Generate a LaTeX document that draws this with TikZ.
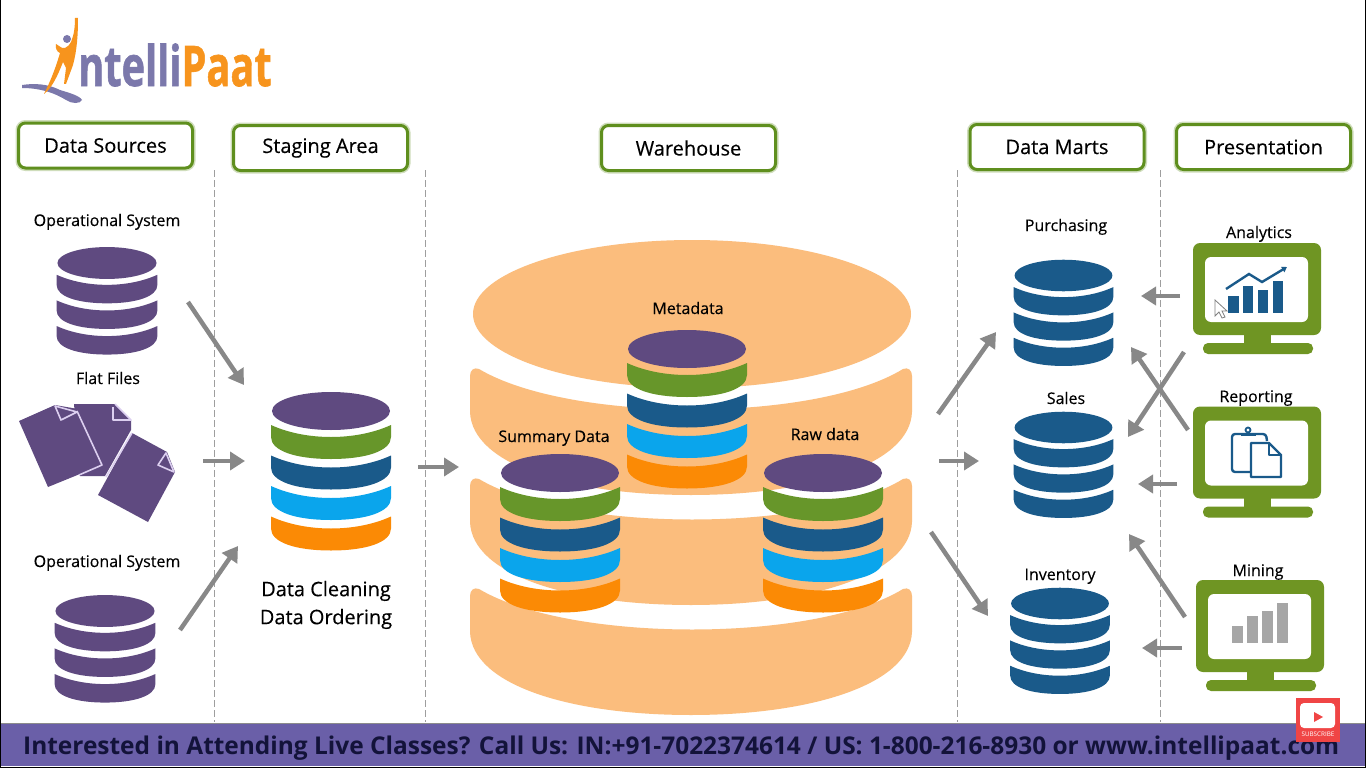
\documentclass[tikz,border=0pt]{standalone}
\usepackage{fontspec}
\usepackage{graphicx}
\setmainfont{Open Sans}
\newfontfamily\midfont[FakeBold=0.3]{Open Sans}
\newfontfamily\logofont[BoldFeatures={FakeBold=1.2}]{Open Sans}
\usetikzlibrary{arrows.meta,shapes.geometric}

\definecolor{boxgreen}{HTML}{5F8F1E}
\definecolor{screengreen}{HTML}{6F9523}
\definecolor{flowgray}{HTML}{888888}
\definecolor{diskpurple}{HTML}{5F4A80}
\definecolor{diskgreen}{HTML}{67962A}
\definecolor{diskblue}{HTML}{1A5A8A}
\definecolor{diskcyan}{HTML}{0AA5EC}
\definecolor{diskorange}{HTML}{FB8A05}
\definecolor{peach}{HTML}{FBBD7D}
\definecolor{paper}{HTML}{DCCFF0}
\definecolor{bannerpurple}{HTML}{6A5FA8}
\definecolor{bannerink}{HTML}{13133A}
\definecolor{logogray}{HTML}{7B78AB}
\definecolor{logoorange}{HTML}{F7941D}
\definecolor{ytred}{HTML}{F04545}

\tikzstyle{header}=[draw=boxgreen,fill=white,line width=3pt,rounded corners=7pt,minimum width=174pt,minimum height=45pt,inner sep=0pt,font=\midfont\fontsize{20}{24}\selectfont,preaction={draw=boxgreen!30,line width=6pt}]
\tikzstyle{tag}=[inner sep=0pt,text=black,text height=12pt,text depth=3.5pt,yshift=-1.75pt,font=\midfont\fontsize{16}{20}\selectfont]
\tikzstyle{bigger}=[inner sep=0pt,text=black,font=\midfont\fontsize{20}{24}\selectfont]
\tikzstyle{flow}=[draw=flowgray,line width=4.5pt,-{Triangle[length=15pt,width=18pt]}]
\tikzstyle{divider}=[draw=black!38,dash pattern=on 7pt off 3pt,line width=0.8pt]
\tikzstyle{diskcap}=[shape=ellipse,inner sep=0pt]
\tikzstyle{sheet}=[fill=diskpurple]
\tikzstyle{sheetline}=[draw=paper,line width=1.6pt,line join=round]
\tikzstyle{crt}=[fill=screengreen,rounded corners=7pt,minimum width=128pt,minimum height=92pt,inner sep=0pt]
\tikzstyle{glass}=[fill=white,rounded corners=6pt,minimum width=103pt,minimum height=65pt,inner sep=0pt]
\tikzstyle{iconline}=[draw=diskblue,line width=2.4pt,line join=round]

% name, x, y, scale, top colour, colours of the bands
\newcommand{\dbstack}[6]{
    \node[diskcap,fill=#5,minimum width=#4*118pt,minimum height=#4*38pt] (#1) at (#2,#3) {};
    \begin{scope}[shift={(#2,#3)},scale=#4]
        \foreach \col [count=\i from 0] in {#6}
            \fill[\col,shift={(0,14+\i*30.5)}] (-60,0) .. controls (-25,16) and (25,16) .. (60,0)
                -- (60,12) .. controls (60,26) and (35,34) .. (0,34)
                .. controls (-35,34) and (-60,26) .. (-60,12) -- cycle;
    \end{scope}
}
% name, x and y of the screen centre
\newcommand{\monitor}[3]{
    \fill[screengreen] (#2-13,#3+40) rectangle (#2+14,#3+60);
    \fill[screengreen,rounded corners=5pt] (#2-54,#3+54) rectangle (#2+56,#3+65);
    \node[crt] (#1) at (#2,#3) {};
    \node[glass] (#1screen) at (#2-0.5,#3+0.5) {};
}

\begin{document}
\begin{tikzpicture}[x=1pt,y=-1pt]
    \useasboundingbox (0,0) rectangle (1366,768);
    \fill[white] (0,0) rectangle (1366,768);

    % Logo
    \fill[logogray] (22,85) .. controls (35,83) and (48,84) .. (60,90) .. controls (70,93) and (80,96) .. (82,100)
        .. controls (80,104) and (72,104) .. (66,100) .. controls (55,93) and (40,88) .. (22,88) -- cycle;
    \fill[logoorange] (75,18) -- (78,18) .. controls (78,35) and (77,50) .. (73,65) -- (66,84) -- (64,84) -- (66,68) -- (63,62)
        .. controls (58,75) and (52,88) .. (44,94) .. controls (50,82) and (55,70) .. (60,53)
        .. controls (57,52) and (55,48) .. (56,44) -- (59,46) .. controls (63,50) and (68,48) .. (71,42) .. controls (74,35) and (75,27) .. (75,18) -- cycle;
    \fill[logogray] (67,39) circle (4);
    \node[inner sep=0pt,anchor=base west] (logotext) at (78,86) {\scalebox{0.71}[1]{\fontsize{56}{60}\selectfont\logofont\bfseries\color{logogray}ntelli\color{logoorange}Paat}};

    % First we draw the column headers and the dividers
    \foreach \pos/\name/\words in {{(105.5,145.5)/sources/Data Sources}, {(320.5,148)/staging/Staging Area},
        {(688.5,148)/warehouse/Warehouse}, {(1057,147)/marts/Data Marts}, {(1263.5,147)/presentation/Presentation}}
        \node[header] (\name) at \pos {\words};
    \foreach \xpos in {214,425,957,1160}
        \draw[divider] (\xpos,170) -- (\xpos,722);

    % The warehouse drum
    \fill[peach] (692,314) ellipse (219 and 74);
    \foreach \dy in {0,110,220}
        \fill[peach,shift={(0,\dy)}] (470,376) .. controls (470,370) and (474,367) .. (479,369)
            .. controls (570,423) and (815,423) .. (903,369) .. controls (908,367) and (912,370) .. (912,376)
            -- (912,412) .. controls (910,465) and (810,495) .. (691,495)
            .. controls (570,495) and (472,465) .. (470,412) -- cycle;

    % Flat files
    \fill[sheet] (74,404) -- (115,404) -- (131,420) -- (131,430) -- (105,476) -- (80,476) -- cycle;
    \draw[sheetline] (115,404) -- (131,420) -- (113,420) -- (113,407);
    \fill[sheet] (19,421) -- (55,405) -- (78,409) -- (102,465) -- (48,487) -- cycle;
    \draw[sheetline] (55,406) -- (77,412) -- (61,420) -- cycle;
    \draw[sheetline] (77,411) -- (102,465) -- (79,475);
    \fill[sheet] (132,433) -- (167,452) -- (175,472) -- (148,522) -- (98,495) -- cycle;
    \draw[sheetline] (132,433) -- (106,477);
    \draw[sheetline] (166,453) -- (174,472) -- (158,465) -- cycle;

    % The database stacks
    \dbstack{opone}{107}{263}{0.84}{diskpurple}{diskpurple,diskpurple,diskpurple}
    \dbstack{optwo}{105}{611}{0.84}{diskpurple}{diskpurple,diskpurple,diskpurple}
    \dbstack{cleaning}{331}{411}{1}{diskpurple}{diskgreen,diskblue,diskcyan,diskorange}
    \dbstack{metadata}{687}{349}{1}{diskpurple}{diskgreen,diskblue,diskcyan,diskorange}
    \dbstack{summary}{560}{473}{1}{diskpurple}{diskgreen,diskblue,diskcyan,diskorange}
    \dbstack{rawdata}{823}{473}{1}{diskpurple}{diskgreen,diskblue,diskcyan,diskorange}
    \dbstack{purchasing}{1063.5}{275.5}{0.83}{diskblue}{diskblue,diskblue,diskblue}
    \dbstack{sales}{1063.5}{427.5}{0.83}{diskblue}{diskblue,diskblue,diskblue}
    \dbstack{inventory}{1060}{603.5}{0.83}{diskblue}{diskblue,diskblue,diskblue}

    % The monitors and what is on their screens
    \monitor{analytics}{1257}{289}
    \monitor{reporting}{1257}{452.5}
    \monitor{mining}{1260}{626}
    \foreach \xa/\ya/\xb in {1228/296/1239,1243/286/1253,1258/290/1268,1273/281/1283}
        \fill[diskblue] (\xa,\ya) rectangle (\xb,313);
    \draw[diskblue,line width=2.4pt,-{Triangle[length=5pt,width=6pt]}] (1226,289) -- (1249,274) -- (1262,282) -- (1287,267);
    \filldraw[fill=white,draw=black!50,line width=0.8pt] (1215,300) -- (1215,316) -- (1219,312) -- (1222,318) -- (1225,317) -- (1222,311) -- (1227,311) -- cycle;
    \draw[iconline,rounded corners=3pt] (1250,472) -- (1232,472) -- (1232,434) -- (1266,434) -- (1267,441);
    \draw[iconline,line width=3pt] (1241,434.5) -- (1256,434.5);
    \draw[iconline,line width=1.8pt] (1248,430) circle (2.5);
    \draw[iconline,fill=white] (1251,443) -- (1269,443) -- (1281,455) -- (1281,477) -- (1251,477) -- cycle;
    \draw[iconline,line width=1.5pt] (1269,443) -- (1269,455) -- (1281,455);
    \foreach \xa/\ya/\xb in {1232/626/1243,1247/616/1258,1262/611/1273,1277/603/1288}
        \fill[black!35] (\xa,\ya) rectangle (\xb,643);

    % Labels of the icons
    \foreach \pos/\name/\words in {{(107,220)/oponetext/Operational System}, {(108,378)/flattext/Flat Files},
        {(107,561)/optwotext/Operational System}, {(688,308)/metatext/Metadata}, {(554,436)/summarytext/Summary Data},
        {(825,434)/rawtext/Raw data}, {(1066,225)/purchtext/Purchasing}, {(1066,398)/salestext/Sales},
        {(1060,574)/inventext/Inventory}, {(1259,232)/analytext/Analytics}, {(1256,396)/reporttext/Reporting},
        {(1258,570)/miningtext/Mining}}
        \node[tag] (\name) at \pos {\words};
    \node[bigger] (cleantext) at (326,591) {Data Cleaning};
    \node[bigger] (ordertext) at (326,619) {Data Ordering};

    % Then the ends of the arrows, and the arrows
    \foreach \pos/\name in {{(188,302)/aa}, {(244,385)/ab}, {(203,461)/ba}, {(245,461)/bb}, {(180,630)/ca}, {(238,546)/cb},
        {(418,467)/da}, {(459,467)/db}, {(938,414)/ea}, {(996,332)/eb}, {(939,461)/fa}, {(979,461)/fb},
        {(931,532)/ga}, {(988,616)/gb}, {(1180,296)/ha}, {(1141,296)/hb}, {(1184,352)/ia}, {(1128,437)/ib},
        {(1188,430)/ja}, {(1131,347)/jb}, {(1177,484)/ka}, {(1138,484)/kb}, {(1185,617)/la}, {(1129,534)/lb},
        {(1182,648)/ma}, {(1142,648)/mb}}
        \path \pos coordinate (\name);
    \foreach \tail/\tip in {aa/ab,ba/bb,ca/cb,da/db,ea/eb,fa/fb,ga/gb,ha/hb,ia/ib,ja/jb,ka/kb,la/lb,ma/mb}
        \draw[flow] (\tail) -- (\tip);

    % Banner, subscribe badge and the frame of the screenshot
    \fill[bannerpurple] (0,723) rectangle (1366,766);
    \draw[black!45,line width=1pt] (0,723) -- (1366,723);
    \node[inner sep=0pt,anchor=base west,text=bannerink] (banner) at (23,754)
        {\fontsize{24.45}{28}\selectfont\bfseries Interested in Attending Live Classes? Call Us: IN:+91-7022374614 / US: 1-800-216-8930 or www.intellipaat.com};
    \node[fill=ytred,minimum size=44pt,inner sep=0pt] (badge) at (1318,720) {};
    \node[fill=white,rounded corners=4pt,minimum width=35pt,minimum height=25pt,inner sep=0pt] (playbox) at (1317.5,715.5) {};
    \fill[ytred] (1314,712) -- (1323,717) -- (1314,722) -- cycle;
    \node[inner sep=0pt,text=white,font=\fontsize{6.3}{7}\selectfont] (subscribe) at (1318,734) {SUBSCRIBE};
    \fill[black] (0,766.5) rectangle (1366,768);
    \fill[black] (0,0) rectangle (1,768);
    \fill[black] (1364.5,0) rectangle (1366,768);
\end{tikzpicture}
\end{document}
